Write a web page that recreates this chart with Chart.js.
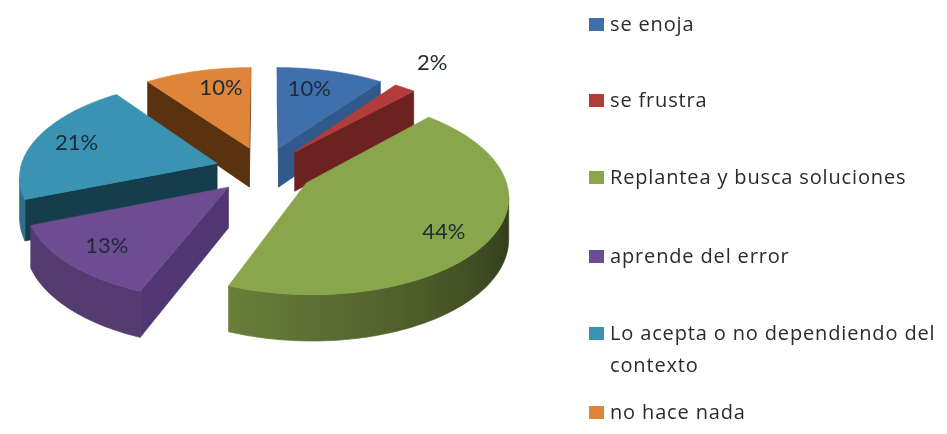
<!DOCTYPE html>
<html lang="es">
<head>
<meta charset="utf-8">
<title>Reacción ante el error</title>
<script src="https://cdn.jsdelivr.net/npm/chart.js@4"></script>
<style>
  html, body { margin: 0; padding: 0; background: #fff; }
  canvas { display: block; }
</style>
</head>
<body>
<canvas id="pie" width="947" height="434"></canvas>
<script>
// Chart data
const categories = ['se enoja', 'se frustra', 'Replantea y busca soluciones', 'aprende del error', 'Lo acepta o no dependiendo del contexto', 'no hace nada'];
const percentages = [10, 2, 44, 13, 21, 10];
const legendLines = [['se enoja'], ['se frustra'], ['Replantea y busca soluciones'], ['aprende del error'], ['Lo acepta o no dependiendo del', 'contexto'], ['no hace nada']];

// Slice styling
const topColors = ['#3f70ab', '#b13c3a', '#8aa64c', '#6d4c92', '#3a93b3', '#df853a'];
const radialWallColors = ['#32598c', '#6c2221', '#2f3a1a', '#513772', '#163d4b', '#5b3210'];

// Percent label placement: distance from the slice apex and turn from its bisector
const labelRadii = [0.74, 1.39, 0.79, 0.78, 0.78, 0.74];
const labelTurnsDeg = [-4, -3, 4, 0, 1, 5];

// Projection of the tilted pie (unit-radius plane to pixels)
const EXPLODE = 0.25;
const SCALE_X = 197, SCALE_Y = 95, DEPTH = 40, PERSPECTIVE = 0.12;

// Legend layout
const LEGEND_SWATCH_X = 589, LEGEND_TEXT_X = 610;
const legendRowY = [25, 101, 178, 257, 334, 413];
const LEGEND_LINE_HEIGHT = 32;

function project(cx, cy, u, v, w) {
  const s = 1 / (1 + PERSPECTIVE * v);
  return { x: cx + SCALE_X * u * s, y: cy + (-SCALE_Y * v + DEPTH * w) * s };
}

function shadeColor(hex, f) {
  const n = parseInt(hex.slice(1), 16);
  const c = [n >> 16, (n >> 8) & 255, n & 255].map(k => Math.round(k * f));
  return `rgb(${c[0]},${c[1]},${c[2]})`;
}

function outerWallShade(deg) {
  return Math.max(0.38, Math.min(0.76, 0.38 + (deg - 110) * 0.0042));
}

// Outline of one slice on the plane: apex, then the rim sampled clockwise
function sliceOutline(arc) {
  const a0 = arc.startAngle + Math.PI / 2;
  const a1 = arc.endAngle + Math.PI / 2;
  const mid = (a0 + a1) / 2;
  const ou = EXPLODE * Math.sin(mid), ov = EXPLODE * Math.cos(mid);
  const steps = Math.max(2, Math.ceil((a1 - a0) * 180 / Math.PI));
  const pts = [{ u: ou, v: ov, rim: false, deg: 0 }];
  for (let i = 0; i <= steps; i++) {
    const t = a0 + (a1 - a0) * i / steps;
    pts.push({ u: ou + Math.sin(t), v: ov + Math.cos(t), rim: true, deg: t * 180 / Math.PI });
  }
  return { pts, ou, ov, mid };
}

function fillPoly(ctx, poly, color, edge) {
  ctx.beginPath();
  poly.forEach((p, i) => (i ? ctx.lineTo(p.x, p.y) : ctx.moveTo(p.x, p.y)));
  ctx.closePath();
  ctx.fillStyle = color;
  ctx.fill();
  if (edge) {
    ctx.strokeStyle = color;
    ctx.lineWidth = 0.7;
    ctx.stroke();
  }
}

// Curved outer wall as one polygon, with its shade running along the rim
function drawRimWall(ctx, top, bottom, pts, run, baseColor) {
  const first = top[run[0]], last = top[run[run.length - 1]];
  const grad = ctx.createLinearGradient(first.x, 0, last.x, 0);
  const span = (first.x - last.x) || 1;
  run.forEach(k => {
    const stop = Math.max(0, Math.min(1, (first.x - top[k].x) / span));
    grad.addColorStop(stop, shadeColor(baseColor, outerWallShade(pts[k].deg)));
  });
  const poly = run.map(k => top[k]).concat(run.slice().reverse().map(k => bottom[k]));
  fillPoly(ctx, poly, grad, true);
}

const tiltedPie = {
  id: 'tiltedPie',
  beforeDatasetDraw(chart, args) {
    const { ctx } = chart;
    const arcs = chart.getDatasetMeta(args.index).data;
    const order = arcs.map((arc, i) => i).sort((p, q) => {
      const m = a => Math.cos((a.startAngle + a.endAngle) / 2 + Math.PI / 2);
      return m(arcs[q]) - m(arcs[p]);
    });
    ctx.save();
    order.forEach(i => {
      const arc = arcs[i];
      const { pts } = sliceOutline(arc);
      const top = pts.map(p => project(arc.x, arc.y, p.u, p.v, 0));
      const bottom = pts.map(p => project(arc.x, arc.y, p.u, p.v, 1));
      let run = [];
      const flushRun = () => {
        if (run.length > 1) drawRimWall(ctx, top, bottom, pts, run, topColors[i]);
        run = [];
      };
      for (let k = 0; k < pts.length; k++) {
        const n = (k + 1) % pts.length;
        const facing = top[n].x < top[k].x; // leftward edges face the viewer
        if (facing && pts[k].rim && pts[n].rim) {
          if (!run.length) run.push(k);
          run.push(n);
          continue;
        }
        flushRun();
        if (facing) fillPoly(ctx, [top[k], top[n], bottom[n], bottom[k]], radialWallColors[i], true);
      }
      flushRun();
      fillPoly(ctx, top, topColors[i], true);
    });
    ctx.restore();
    return false;
  },
  afterDatasetsDraw(chart) {
    const { ctx } = chart;
    const arcs = chart.getDatasetMeta(0).data;
    ctx.save();
    ctx.font = '22px Lato';
    ctx.fillStyle = '#1f2a36';
    ctx.textAlign = 'center';
    ctx.textBaseline = 'middle';
    arcs.forEach((arc, i) => {
      const { ou, ov, mid } = sliceOutline(arc);
      const r = labelRadii[i];
      const t = mid + labelTurnsDeg[i] * Math.PI / 180;
      const p = project(arc.x, arc.y, ou + r * Math.sin(t), ov + r * Math.cos(t), 0);
      ctx.fillText(percentages[i] + '%', p.x, p.y);
    });
    ctx.restore();
  },
  afterDraw(chart) {
    const { ctx } = chart;
    ctx.save();
    ctx.font = '20px "Open Sans"';
    ctx.letterSpacing = '0.85px';
    ctx.textBaseline = 'middle';
    legendLines.forEach((lines, i) => {
      ctx.fillStyle = topColors[i];
      ctx.fillRect(LEGEND_SWATCH_X, legendRowY[i] - 7, 15, 13);
      ctx.fillStyle = '#2b2b2b';
      lines.forEach((line, j) => ctx.fillText(line, LEGEND_TEXT_X, legendRowY[i] + j * LEGEND_LINE_HEIGHT));
    });
    ctx.restore();
  }
};

new Chart(document.getElementById('pie'), {
  type: 'pie',
  data: {
    labels: categories,
    datasets: [{ data: percentages, backgroundColor: topColors, borderWidth: 0 }]
  },
  options: {
    responsive: false,
    animation: false,
    layout: { padding: { left: 0, right: 419, top: 0, bottom: 94 } },
    plugins: { legend: { display: false }, tooltip: { enabled: false } }
  },
  plugins: [tiltedPie]
});
</script>
</body>
</html>
